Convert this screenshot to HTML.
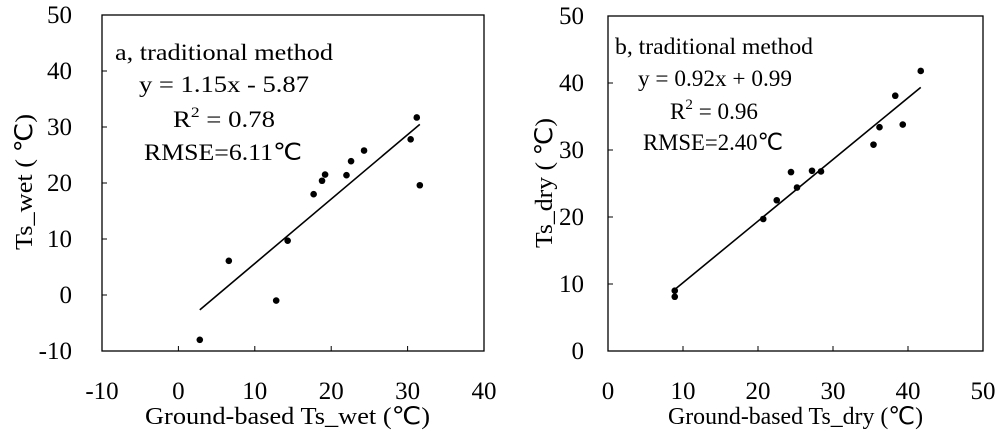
<!DOCTYPE html>
<html><head><meta charset="utf-8"><style>
body{margin:0;background:#fff}
svg{display:block}
svg text{font-family:"Liberation Serif","DejaVu Serif",serif}
</style></head><body>
<svg id="chart" width="1000" height="438" font-family="Liberation Serif, serif"></svg>
<script>
const aX=[2.8,6.6,12.8,14.3,17.7,18.8,19.2,22.0,22.6,24.3,30.4,31.2,31.6];
const aY=[-8.0,6.1,-1.0,9.7,18.0,20.4,21.5,21.4,23.9,25.8,27.8,31.7,19.6];
const bX=[8.9,8.9,20.7,22.5,24.4,25.2,27.2,28.4,35.4,36.2,38.3,39.3,41.7];
const bY=[9.0,8.1,19.7,22.5,26.7,24.4,26.9,26.8,30.8,33.4,38.1,33.8,41.8];
const aXTicks=[-10,0,10,20,30,40];
const aYTicks=[-10,0,10,20,30,40,50];
const bXTicks=[0,10,20,30,40,50];
const bYTicks=[0,10,20,30,40,50];
const aFit=[1.15,-5.87];
const bFit=[0.92,0.99];
const NS="http://www.w3.org/2000/svg";
const svg=document.getElementById('chart');
const FF='"Liberation Serif", serif';
function mk(tag,attrs,parent){const e=document.createElementNS(NS,tag);for(const k in attrs)e.setAttribute(k,attrs[k]);if(tag==='text')e.style.fontFamily=FF;(parent||svg).appendChild(e);return e;}
function panel(p){
  const g=mk('g',{});
  
  
  const sx=v=>p.x0+(v-p.xmin)/(p.xmax-p.xmin)*(p.x1-p.x0);
  const sy=v=>p.y1-(v-p.ymin)/(p.ymax-p.ymin)*(p.y1-p.y0);
  const box=mk('rect',{x:p.x0,y:p.y0,width:p.x1-p.x0,height:p.y1-p.y0,fill:'none',stroke:'#000','stroke-width':1.3},g);
  
  
  p.xt.forEach(t=>{
    const x=sx(t);
    if(t>p.xmin&&t<p.xmax){const l=mk('line',{x1:x,x2:x,y1:p.y1,y2:p.y1-5,stroke:'#000'},g);}
    const tx=mk('text',{x:x,y:p.y1+48,'text-anchor':'middle','font-size':25},g);
    
    
    tx.textContent=t;
  });
  p.yt.forEach(t=>{
    const y=sy(t);
    if(t>p.ymin&&t<p.ymax){const l=mk('line',{x1:p.x0,x2:p.x0+5,y1:y,y2:y,stroke:'#000'},g);}
    const tx=mk('text',{x:p.ylx,y:y+8,'text-anchor':'end','font-size':25},g);
    
    
    tx.textContent=t;
  });
  const fx0=Math.min(...p.xs),fx1=Math.max(...p.xs);
  const fl=mk('line',{x1:sx(fx0),y1:sy(p.fit[0]*fx0+p.fit[1]),x2:sx(fx1),y2:sy(p.fit[0]*fx1+p.fit[1]),stroke:'#000','stroke-width':1.6},g);
  
  
  p.xs.forEach((v,i)=>{
    const c=mk('circle',{cx:sx(v),cy:sy(p.ys[i]),r:3.3,fill:'#000'},g);
    
    
  });
  const xt=mk('text',{x:p.xtx,y:424,'font-size':24,textLength:p.xtl,lengthAdjust:'spacingAndGlyphs'},g);
  
  
  xt.textContent=p.xtitle;
  const yt=mk('text',{x:0,y:0,'font-size':24,textLength:p.ytl,lengthAdjust:'spacingAndGlyphs',transform:`translate(${p.ytx},${p.yty}) rotate(-90)`},g);
  
  
  yt.textContent=p.ytitle;
  p.ann.forEach(a=>{
    const t=mk('text',{x:a[0],y:a[1],'font-size':23,textLength:a[3],lengthAdjust:'spacingAndGlyphs'},g);
    
    
    if(a[2].startsWith('R2')){
      t.appendChild(document.createTextNode('R'));
      const s=mk('tspan',{dy:-10,'font-size':15},t);s.textContent='2';
      const r=mk('tspan',{dy:10},t);r.textContent=a[2].slice(2);
    } else t.textContent=a[2];
  });
}
panel({name:'panel-a-wet',x0:102,x1:484,y0:15,y1:351,xmin:-10,xmax:40,ymin:-10,ymax:50,xt:aXTicks,yt:aYTicks,xs:aX,ys:aY,fit:aFit,ylx:72,ytx:32,yty:250,ytl:136,xtx:145,xtl:285,
  xtitle:'Ground-based Ts_wet (℃)',ytitle:'Ts_wet ( ℃)',
  ann:[[115,60,'a, traditional method',218,'panel-a-title'],[139,92,'y = 1.15x - 5.87',170,'equation'],[173,127,'R2 = 0.78',102,'r-squared'],[144,160,'RMSE=6.11℃',158,'rmse']]});
panel({name:'panel-b-dry',x0:608,x1:983,y0:16,y1:351,xmin:0,xmax:50,ymin:0,ymax:50,xt:bXTicks,yt:bYTicks,xs:bX,ys:bY,fit:bFit,ylx:584,ytx:552,yty:248,ytl:130,xtx:668,xtl:255,
  xtitle:'Ground-based Ts_dry (℃)',ytitle:'Ts_dry ( ℃)',
  ann:[[615,54,'b, traditional method',198,'panel-b-title'],[638,86,'y = 0.92x + 0.99',154,'equation'],[670,119,'R2 = 0.96',88,'r-squared'],[643,150,'RMSE=2.40℃',140,'rmse']]});
</script>
</body></html>
